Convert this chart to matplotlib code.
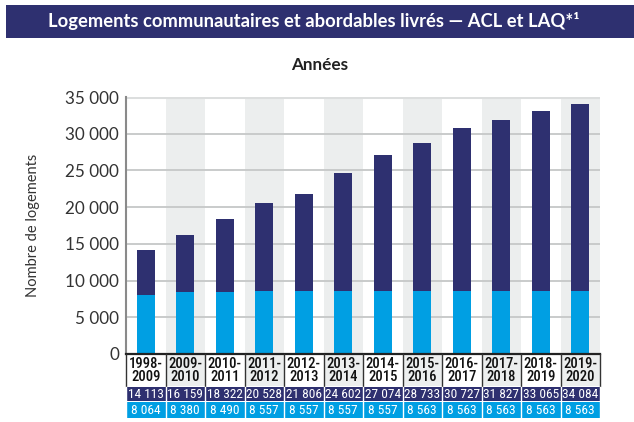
import matplotlib
matplotlib.use("Agg")
import matplotlib.pyplot as plt
from matplotlib.patches import Rectangle

# Data
periodes = ["1998-\n2009", "2009-\n2010", "2010-\n2011", "2011-\n2012", "2012-\n2013", "2013-\n2014",
            "2014-\n2015", "2015-\n2016", "2016-\n2017", "2017-\n2018", "2018-\n2019", "2019-\n2020"]
total_livres = [14113, 16159, 18322, 20528, 21806, 24602, 27074, 28733, 30727, 31827, 33065, 34084]
acl_laq = [8064, 8380, 8490, 8557, 8557, 8557, 8557, 8563, 8563, 8563, 8563, 8563]
yticks = [0, 5000, 10000, 15000, 20000, 25000, 30000, 35000]

NAVY = "#2e3070"
BLUE = "#009fe3"
BAND = "#eceeee"

plt.rcParams['font.family'] = ['Lato', 'DejaVu Sans']


def fmt(v):
    return f"{v:,}".replace(",", " ")


W, H = 634, 422
fig = plt.figure(figsize=(W / 100, H / 100), dpi=100)

# title banner
fig.patches.append(Rectangle((6 / W, (H - 38) / H), 1 - 6 / W, 33 / H,
                             transform=fig.transFigure, facecolor=NAVY, edgecolor='none'))
fig.text(314 / W, (H - 21.5) / H, "Logements communautaires et abordables livrés — ACL et LAQ*\u00b9",
         color='white', fontsize=13.2, fontweight='bold', ha='center', va='center')
fig.text(320 / W, (H - 65) / H, "Années", fontsize=12.3, fontweight='bold', ha='center', va='center',
         color='#222222')

left, right, top, bottom = 126, 600, 97, 354
ax = fig.add_axes([left / W, (H - bottom) / H, (right - left) / W, (bottom - top) / H])
n = len(periodes)
x = list(range(n))

for i in x:
    if i % 2 == 1:
        ax.axvspan(i - 0.5, i + 0.5, color=BAND, zorder=0, lw=0)

for v in yticks[1:-1]:
    ax.axhline(v, color='#c9cbcb', lw=1.4, zorder=1)
ax.axhline(35000, color='#dcdede', lw=2.2, zorder=1)

navy_part = [t - a for t, a in zip(total_livres, acl_laq)]
ax.bar(x, acl_laq, width=0.46, color=BLUE, zorder=2)
ax.bar(x, navy_part, bottom=acl_laq, width=0.46, color=NAVY, zorder=2)

ax.set_xlim(-0.5, n - 0.5)
ax.set_ylim(0, 35000)
ax.set_yticks(yticks)
ax.set_yticklabels([fmt(v) for v in yticks], fontsize=12.3, color='#333333')
ax.set_xticks([])
ax.tick_params(axis='y', length=0, pad=5)
for s in ['top', 'right', 'bottom']:
    ax.spines[s].set_visible(False)
ax.spines['left'].set_color('#8a8a8a')
ax.spines['left'].set_linewidth(1.5)
ax.set_ylabel("Nombre de logements", fontsize=10.5, color='#333333', labelpad=18)

# table below the chart
tab_top, tab_bot = 354, 418
tab = fig.add_axes([left / W, (H - tab_bot) / H, (right - left) / W, (tab_bot - tab_top) / H])
tab.set_xlim(-0.5, n - 0.5)
tab.set_ylim(tab_bot - tab_top, 0)
tab.axis('off')

cond = ['Roboto Condensed', 'Lato', 'DejaVu Sans']
for i in x:
    bg = BAND if i % 2 == 1 else 'white'
    tab.add_patch(Rectangle((i - 0.5, 0), 1, 32, facecolor=bg, edgecolor='none'))
    tab.text(i, 16.5, periodes[i], ha='center', va='center', fontsize=10.5, fontweight='medium',
             linespacing=0.98, color='#111111', family=cond)
    tab.add_patch(Rectangle((i - 0.5, 32.5), 1, 14, facecolor=NAVY, edgecolor='none'))
    tab.text(i, 40, fmt(total_livres[i]), ha='center', va='center', fontsize=9.6,
             color='white', family=cond)
    tab.add_patch(Rectangle((i - 0.5, 48), 1, 16, facecolor=BLUE, edgecolor='none'))
    tab.text(i, 56.5, fmt(acl_laq[i]), ha='center', va='center', fontsize=9.6,
             color='white', family=cond)

tab.plot([-0.5, n - 0.5], [0, 0], color='#222222', lw=1.6, clip_on=False)
for i in range(n + 1):
    xb = i - 0.5
    tab.plot([xb, xb], [0, 32], color='#333333', lw=1.0, clip_on=False)
    tab.plot([xb, xb], [32.5, 64], color='white', lw=1.0, clip_on=False)

fig.savefig("out.png", dpi=100)
